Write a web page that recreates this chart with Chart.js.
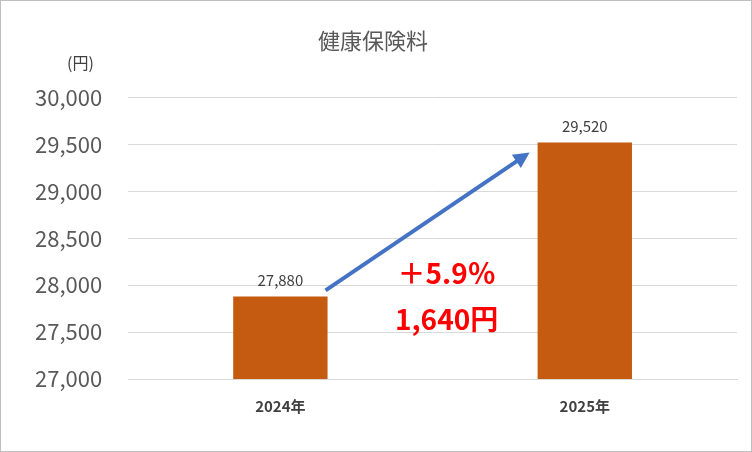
<!DOCTYPE html>
<html><head><meta charset="utf-8">
<script src="https://cdn.jsdelivr.net/npm/chart.js@4"></script>
<style>
body{margin:0;background:#fff}
#wrap{position:absolute;left:0;top:0;width:750px;height:450px;border:1px solid #bfbfbf}
</style></head><body>
<div id="wrap"><canvas id="c"></canvas></div>
<script>
const categories = ['2024年', '2025年'];
const values = [27880, 29520];
const changeText = '＋5.9％';
const diffText = '1,640円';

const font = "'Noto Sans CJK JP', 'Noto Sans', sans-serif";

const extras = {
    id: 'extras',
    afterDatasetsDraw(chart) {
        const ctx = chart.ctx;
        const meta = chart.getDatasetMeta(0);
        const y = chart.scales.y;
        ctx.save();
        ctx.fillStyle = '#404040';
        ctx.font = '15px ' + font;
        ctx.textAlign = 'center';
        meta.data.forEach((bar, i) => {
            ctx.fillText(values[i].toLocaleString('en-US'), bar.x, bar.y - 10);
        });
        // unit label
        ctx.textAlign = 'left';
        ctx.font = '16px ' + font;
        ctx.fillText('(円)', 66, 68);
        // arrow
        const b0 = meta.data[0], b1 = meta.data[1];
        const x1 = b0.x + b0.width / 2 - 2, y1 = y.getPixelForValue(values[0]) - 6;
        const x2 = b1.x - b1.width / 2 - 8, y2 = y.getPixelForValue(values[1]) + 10;
        const ang = Math.atan2(y2 - y1, x2 - x1);
        ctx.strokeStyle = '#4472C4';
        ctx.fillStyle = '#4472C4';
        ctx.lineWidth = 4;
        ctx.beginPath();
        ctx.moveTo(x1, y1);
        ctx.lineTo(x2 - 10 * Math.cos(ang), y2 - 10 * Math.sin(ang));
        ctx.stroke();
        ctx.beginPath();
        ctx.moveTo(x2, y2);
        ctx.lineTo(x2 - 16 * Math.cos(ang) + 8 * Math.sin(ang), y2 - 16 * Math.sin(ang) - 8 * Math.cos(ang));
        ctx.lineTo(x2 - 16 * Math.cos(ang) - 8 * Math.sin(ang), y2 - 16 * Math.sin(ang) + 8 * Math.cos(ang));
        ctx.closePath();
        ctx.fill();
        // red texts
        ctx.fillStyle = '#FF0000';
        ctx.font = 'bold 28px ' + font;
        ctx.textAlign = 'center';
        ctx.textBaseline = 'middle';
        const cx = (b0.x + b1.x) / 2 + 14;
        ctx.fillText(changeText, cx, 272);
        ctx.fillText(diffText, cx, 318);
        ctx.restore();
    }
};

new Chart(document.getElementById('c'), {
    type: 'bar',
    data: {
        labels: categories,
        datasets: [{
            data: values,
            backgroundColor: '#C55A11',
            barPercentage: 0.31,
            categoryPercentage: 1
        }]
    },
    options: {
        responsive: true,
        maintainAspectRatio: false,
        animation: false,
        layout: { padding: { left: 8, right: 14, top: 12, bottom: 18 } },
        plugins: {
            legend: { display: false },
            tooltip: { enabled: false },
            title: {
                display: true,
                text: '健康保険料',
                color: '#595959',
                font: { family: font, size: 22, weight: 'normal' },
                padding: { top: 14, bottom: 44 }
            }
        },
        scales: {
            y: {
                min: 27000, max: 30000,
                ticks: {
                    stepSize: 500,
                    color: '#595959',
                    font: { family: font, size: 22 },
                    callback: v => v.toLocaleString('en-US'),
                    padding: 26
                },
                grid: { color: '#d9d9d9', drawTicks: false },
                border: { display: false }
            },
            x: {
                ticks: {
                    color: '#404040',
                    font: { family: font, size: 15, weight: 'bold' },
                    padding: 18
                },
                grid: { display: false, drawTicks: false },
                border: { color: '#d9d9d9' }
            }
        }
    },
    plugins: [extras]
});
</script>
</body></html>
